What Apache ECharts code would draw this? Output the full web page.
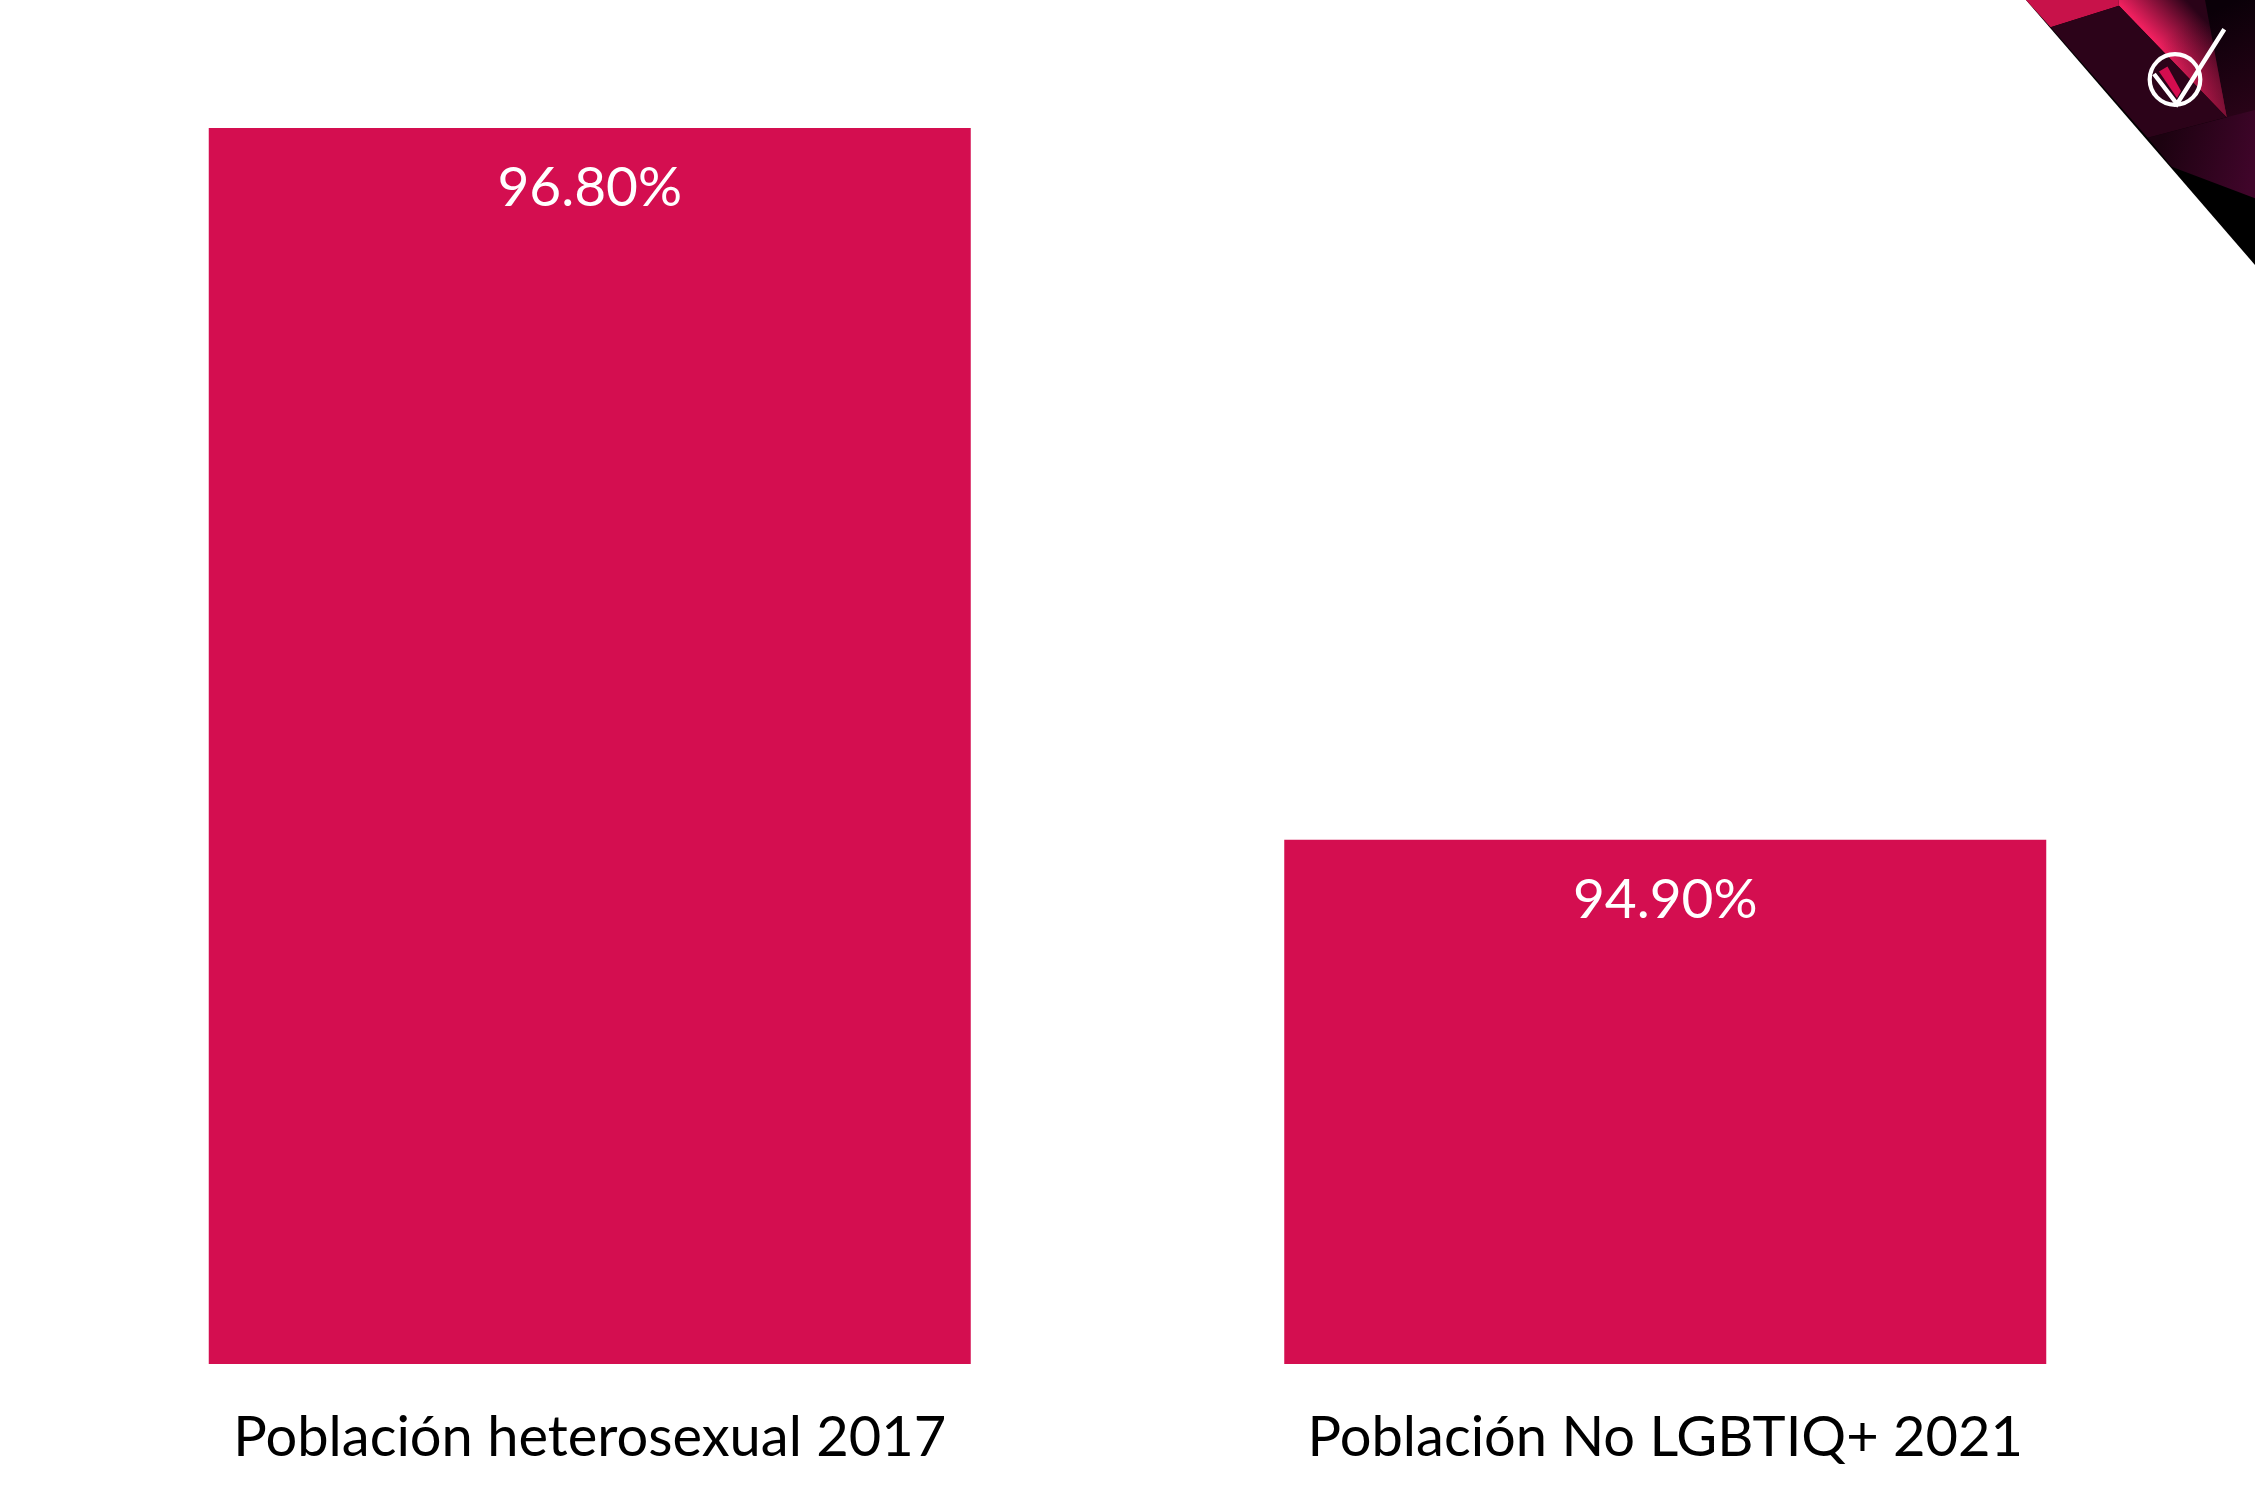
<!DOCTYPE html>
<html>
<head>
<meta charset="utf-8">
<style>html,body{margin:0;padding:0;background:#fff;overflow:hidden}#chart{width:2255px;height:1507px}</style>
<script src="https://cdn.jsdelivr.net/npm/echarts@6/dist/echarts.min.js"></script>
</head>
<body>
<div id="chart"></div>
<script>
const categories = ['Población heterosexual 2017', 'Población No LGBTIQ+ 2021'];
const values = [96.8, 94.9];
const axisMin = 93.5;
const axisMax = 96.8;

// Corner badge, laid out in a 780-unit square grid scaled down by 3.
const cornerX = 1995;
const pts = list => list.map(p => [cornerX + p[0] / 3, p[1] / 3]);
const poly = (list, fill, z) => ({
  type: 'polygon', silent: true, z: z || 10,
  shape: { points: pts(list) },
  style: { fill }
});
const grad = (x, y, x2, y2, c1, c2) => ({
  type: 'linear', global: true,
  x: cornerX + x / 3, y: y / 3, x2: cornerX + x2 / 3, y2: y2 / 3,
  colorStops: [{ offset: 0, color: c1 }, { offset: 1, color: c2 }]
});
const fanShape = [[370, 0], [630, 0], [695, 352], [372, 17]];
const badge = [
  poly([[93, 0], [780, 0], [780, 795]], '#000000', 10),
  poly([[600, 0], [780, 0], [780, 345], [695, 352]], grad(640, 40, 780, 340, '#0a0008', '#2a0318'), 11),
  poly([[458, 413], [695, 352], [780, 330], [780, 595], [530, 500]], grad(500, 420, 780, 500, '#1c0210', '#40052a'), 11),
  poly([[93, 0], [370, 0], [372, 17], [167, 82]], '#c8124a', 12),
  poly(fanShape, grad(420, 60, 530, -45, '#f0205f', '#2a0318'), 12),
  // Darkens the fan toward its lower tip.
  poly(fanShape, grad(500, 120, 695, 352, 'rgba(30,2,18,0)', 'rgba(30,2,18,0.55)'), 12),
  poly([[372, 17], [695, 352], [458, 413], [167, 82]], '#2c0319', 13),
  {
    type: 'polygon', silent: true, z: 14,
    shape: { points: [[2159, 71.5], [2167.5, 66.5], [2181, 91], [2177, 98]] },
    style: { fill: '#d50d4f' }
  },
  {
    type: 'circle', silent: true, z: 15,
    shape: { cx: 2175, cy: 79.5, r: 25.3 },
    style: { fill: 'none', stroke: '#ffffff', lineWidth: 4.2 }
  },
  {
    type: 'polyline', silent: true, z: 15,
    shape: { points: [[2154, 74], [2177, 104], [2224.3, 29.3]] },
    style: { fill: 'none', stroke: '#ffffff', lineWidth: 4.4 }
  }
];

const chart = echarts.init(document.getElementById('chart'), null, { renderer: 'canvas' });
chart.setOption({
  animation: false,
  backgroundColor: '#ffffff',
  grid: { left: 52, top: 128, width: 2151, height: 1236, containLabel: false },
  xAxis: {
    type: 'category',
    data: categories,
    axisLine: { show: false },
    axisTick: { show: false },
    axisLabel: {
      color: '#000000',
      fontFamily: 'Lato',
      fontSize: 56,
      margin: 46,
      interval: 0
    }
  },
  yAxis: {
    type: 'value',
    min: axisMin,
    max: axisMax,
    show: false
  },
  series: [{
    type: 'bar',
    data: values,
    barWidth: 762,
    itemStyle: { color: '#d40e50' },
    label: {
      show: true,
      position: 'insideTop',
      distance: 33,
      color: '#ffffff',
      fontFamily: 'Lato',
      fontWeight: 400,
      fontSize: 55,
      formatter: p => p.value.toFixed(2) + '%'
    }
  }],
  graphic: badge
});
</script>
</body>
</html>
